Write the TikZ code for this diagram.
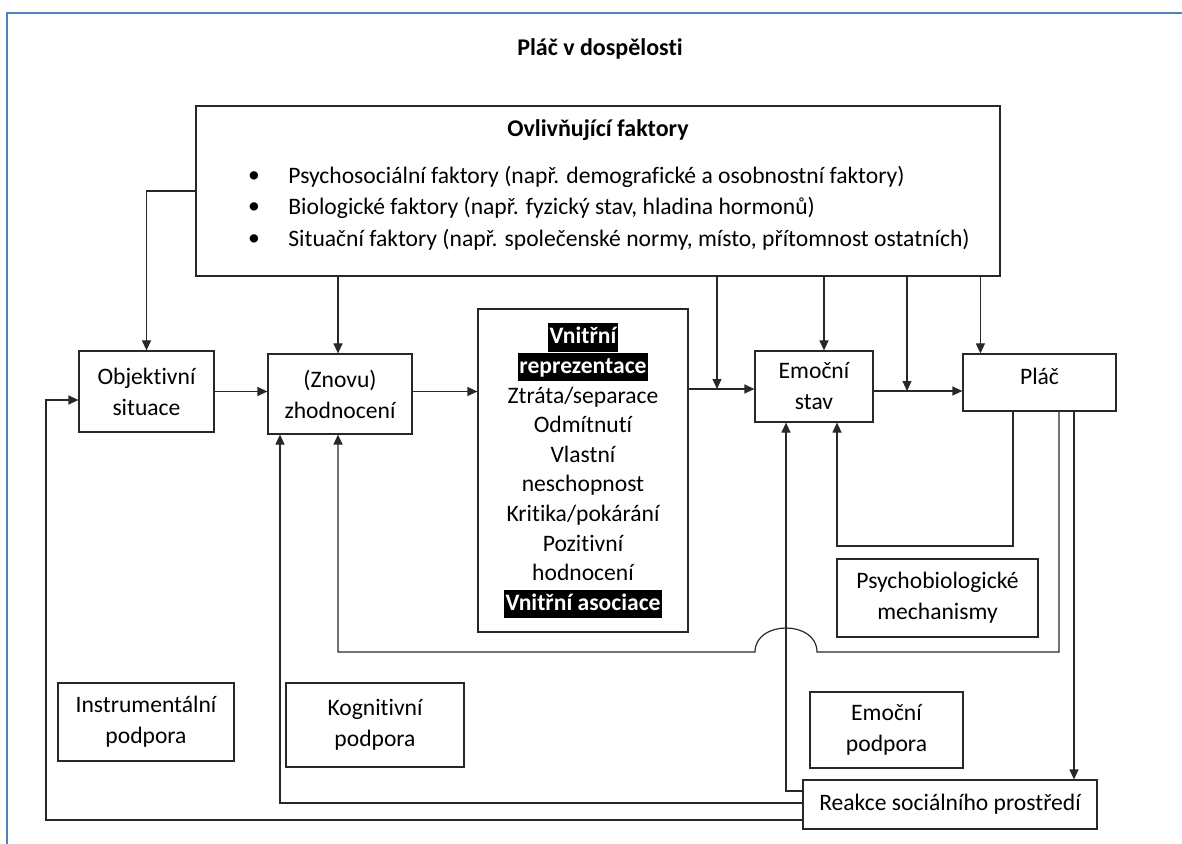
\documentclass[tikz,border=0pt]{standalone}
\usepackage{fontspec}
\setmainfont{Carlito}[Ligatures=NoCommon]
\usepackage{tikz}
\usetikzlibrary{arrows.meta,positioning,calc}
\usepackage{xcolor}
\definecolor{cFrame}{RGB}{79,129,189}
\definecolor{cLine}{RGB}{40,40,40}
\newcommand{\zvyr}[1]{{\setlength{\fboxsep}{0.6pt}\colorbox{black}{\rule[-3.2pt]{0pt}{13pt}\textcolor{white}{\bfseries #1}}}}
\tikzset{
	kbox/.style={draw=cLine, line width=0.6pt, align=center, inner sep=0pt,
		font=\fontsize{11.8}{15.5}\selectfont},
	karr/.style={-{Triangle[length=5pt,width=4.5pt]}, line width=0.6pt,
		draw=cLine},
	ktext/.style={inner sep=0pt, font=\fontsize{11.8}{13}\selectfont},
	khead/.style={inner sep=0pt, font=\bfseries\fontsize{12}{14}\selectfont},
	ramec/.style={draw=cFrame, line width=1pt},
}

\begin{document}
\begin{tikzpicture}[x=0.5pt,y=-0.5pt]
			\useasboundingbox (0,0) rectangle (1182,844);
			\draw[ramec] (7,844) -- (7,13) -- (1182,13);
			\node[khead] (nadpis) at (600,49) {Pláč v dospělosti};
			% influencing factors
			\node[kbox, minimum width=402pt, minimum height=85pt] (fak) at (598,191) {};
			\node[khead] (fakhead) at (598,130) {Ovlivňující faktory};
			\node[ktext] (bul1) at (254,177) {\textbullet};
			\node[ktext] (bul2) at (254,208) {\textbullet};
			\node[ktext] (bul3) at (254,240) {\textbullet};
			\node[ktext, anchor=west] (fak1) at (288,177) {Psychosociální faktory (např. demografické a osobnostní faktory)};
			\node[ktext, anchor=west] (fak2) at (288,208) {Biologické faktory (např. fyzický stav, hladina hormonů)};
			\node[ktext, anchor=west] (fak3) at (288,240) {Situační faktory (např. společenské normy, místo, přítomnost ostatních)};
			% main chain
			\node[kbox, minimum width=67.5pt, minimum height=40.5pt] (obj) at (146.5,391.5) {Objektivní\\situace};
			\node[kbox, minimum width=72pt, minimum height=40pt] (zhod) at (340,394) {(Znovu)\\zhodnocení};
			\node[kbox, minimum width=105pt, minimum height=161.5pt,
				font=\fontsize{11.8}{14.8}\selectfont] (repr) at (583,470.5)
				{\zvyr{Vnitřní}\\\zvyr{reprezentace}\\Ztráta/separace\\Odmítnutí\\Vlastní\\neschopnost\\Kritika/pokárání\\Pozitivní\\hodnocení\\\zvyr{Vnitřní asociace}};
			\node[kbox, minimum width=59pt, minimum height=35.5pt] (emo) at (814,386.5) {Emoční\\stav};
			\node[kbox, minimum width=76.5pt, minimum height=28.5pt] (plac) at (1039.5,382.5) {\raisebox{6.5pt}{Pláč}};
			\node[kbox, minimum width=100.5pt, minimum height=39pt] (psy) at (937.5,598) {Psychobiologické\\mechanismy};
			% support
			\node[kbox, minimum width=88pt, minimum height=39pt] (instr) at (146,722) {Instrumentální\\podpora};
			\node[kbox, minimum width=89pt, minimum height=42pt] (kogn) at (375,725) {Kognitivní\\podpora};
			\node[kbox, minimum width=76.5pt, minimum height=38pt] (emop) at (886.5,730) {Emoční\\podpora};
			\node[kbox, minimum width=147pt, minimum height=24.5pt] (reak) at (950,804.5) {Reakce sociálního prostředí};
			% lanes
			\coordinate (jA) at (717,389);
			\coordinate (jB) at (907,391);
			\coordinate (lp1) at (1013,546);
			\coordinate (lp2) at (837,546);
			\coordinate (lq1) at (1059,652);
			\coordinate (lq2) at (338,652);
			\coordinate (jmp) at (786,652);
			\coordinate (ls) at (1074,700);
			\coordinate (lr) at (786,791);
			\coordinate (lk) at (280,803);
			\coordinate (li1) at (46,820);
			\coordinate (li2) at (46,400);
			% factors to the chain
			\draw[karr] (fak.west) -| (obj.north);
			\draw[karr] (fak.south -| lq2) -- (zhod.north -| lq2);
			\draw[karr] (fak.south -| jA) -- (jA);
			\draw[karr] ([xshift=5pt]emo.north |- fak.south) -- ([xshift=5pt]emo.north);
			\draw[karr] (fak.south -| jB) -- (jB);
			\draw[karr] ([xshift=9pt]plac.north west |- fak.south) -- ([xshift=9pt]plac.north west);
			% chain
			\draw[karr] (obj.east) -- (obj.east -| zhod.west);
			\draw[karr] (zhod.east |- obj.east) -- (repr.west |- obj.east);
			\draw[karr] (repr.east |- jA) -- (emo.west |- jA);
			\draw[karr] (emo.east |- jB) -- (plac.west |- jB);
			% feedback
			\draw[karr] (plac.south -| lp1) -- (lp1) -- (lp2) -- (emo.south -| lp2);
			\draw[karr] (plac.south -| lq1) -- (lq1) -- ($(jmp)+(31,0)$)
				.. controls ($(jmp)+(31,-32)$) and ($(jmp)+(-31,-32)$) .. ($(jmp)+(-31,0)$)
				-- (lq2) -- (zhod.south -| lq2);
			\draw[karr] (plac.south -| ls) -- (reak.north -| ls);
			\draw[karr] (reak.west |- lr) -- (lr) -- (emo.south -| lr);
			\draw[karr] (reak.west |- lk) -- (lk) -- (zhod.south -| lk);
			\draw[karr] (reak.west |- li1) -- (li1) -- (li2) -- (obj.west |- li2);
		\end{tikzpicture}
\end{document}
